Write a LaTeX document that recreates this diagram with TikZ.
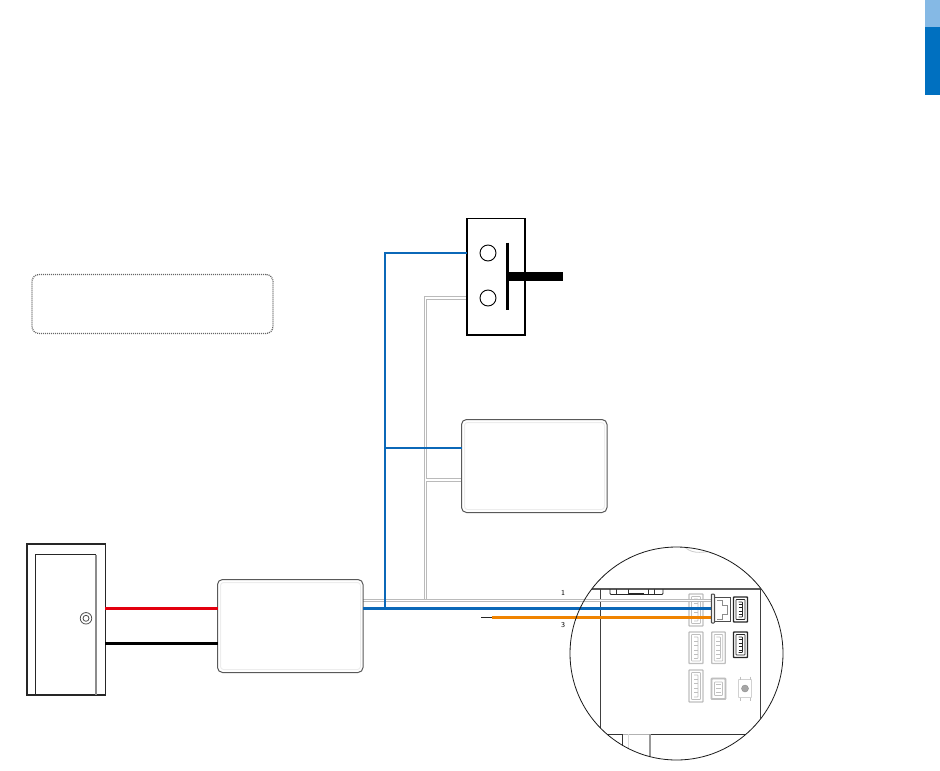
\documentclass[tikz,border=0pt]{standalone}
\usepackage{tikz}
\usetikzlibrary{calc,positioning,backgrounds}
\definecolor{tabblue}{HTML}{0070C0}
\definecolor{tablight}{HTML}{85B9E5}
\definecolor{wireblue}{HTML}{0B68B8}
\definecolor{wireorange}{HTML}{F08300}
\definecolor{wirered}{HTML}{E3000F}
\tikzset{
	unitbox/.style={draw=black!65,line width=1pt,rounded corners=5pt,anchor=north west,inner sep=0pt,outer sep=0pt},
	unitedge/.style={draw=black!7,line width=1pt,rounded corners=3pt,anchor=north west,inner sep=0pt,outer sep=0pt},
	plainbox/.style={draw=black,anchor=north west,inner sep=0pt,outer sep=0pt},
	graywire/.style={draw=black!27,double=white,double distance=1.1pt,line width=1pt},
	bluewire/.style={draw=wireblue,line width=2.6pt},
	colwire/.style={line width=3pt},
	socket/.style={draw=black!25,line width=1.4pt,rounded corners=.6pt},
	activesocket/.style={draw=black!85,line width=1.3pt,rounded corners=.6pt},
	wiremark/.style={font=\sffamily\fontsize{7.5}{8}\selectfont,inner sep=0pt}
}
\newcommand{\socketat}[5]{% x, y, w, h, style
	\draw[#5] (#1,#2) rectangle ++(#3,#4);
	\draw[#5,line width=.6pt] ($(#1,#2)+(2.5,2.5)$) rectangle ++($(#3,#4)+(-5,-5)$);
	\draw[#5,line width=.8pt] ($(#1,#2)+(.5*#3-2,5)$) -- ++(4,0) -- ++(0,#4-10) -- ++(-4,0);
	\foreach \t in {.3,.43,.57,.7}
	\draw[#5,line width=.6pt] ($(#1,#2)+(.5*#3-2,\t*#4)$) --+(4,0);
}
\begin{document}
\begin{tikzpicture}[x=1pt,y=-1pt]
	\useasboundingbox (0,0) rectangle (940,771);
	% side tab
	\fill[tablight] (925,0) rectangle (940,27);
	\fill[tabblue] (925,27) rectangle (940,95);
	% note frame
	\node[unitbox,draw=black!60,densely dotted,line width=1.3pt,rounded corners=7pt,minimum width=241pt,minimum height=59pt] (note) at (32,274.5) {};
	% board detail
	\begin{scope}[on background layer]
		\begin{scope}
			\clip (676.5,653.5) circle (106.5);
			\draw[line width=1.4pt,black!65] (560,589) -- (760.5,589);
			\draw[line width=1pt,black!75] (600.7,589) -- (600.7,770);
			\draw[line width=1pt,black!75] (760.5,589) -- (760.5,770);
			\draw[line width=1pt,black!80] (570,734) -- (622,734);
			\draw[line width=1pt,black!80] (650,734) -- (790,734);
			\draw[line width=1pt,black!30] (622,734) -- (650,734);
			\draw[line width=.9pt,black!80] (622,734) -- (622,770);
			\draw[line width=.8pt,black!15] (628,734) -- (628,770);
			\draw[line width=1.2pt,black!40] (650,734) -- (650,770);
			\draw[line width=.8pt,black!20] (683,545) .. controls (690,554) and (700,553) .. (712,551);
			\draw[line width=.9pt,black!85,rounded corners=1pt] (610,589) -- (610,594.5) -- (663,594.5) -- (663,589);
			\foreach \x in {616,628,648,654}
			\draw[line width=.7pt,black!80] (\x,589) --+(0,5);
			\draw[line width=1.4pt,black!85] (629,594) -- (644,594);
		\end{scope}
		\foreach \x/\y/\w/\h in {689/594/14/32,689/632/14/31.5,711.7/632/13.5/31.5,689/670/14/32}
		\socketat{\x}{\y}{\w}{\h}{socket}
		\draw[socket] (711.5,678.5) rectangle (725.5,699);
		\draw[socket,line width=.7pt] (714.5,682) rectangle (722.5,695.5);
		\foreach \y in {684.5,688.5,692.5}
		\draw[socket,line width=.6pt] (716,\y) --+(5,0);
		\foreach \x/\y/\w/\h in {733.5/597/14/25,733.5/632/14/25.5}
		\socketat{\x}{\y}{\w}{\h}{activesocket}
		% button
		\draw[socket,draw=black!18,line width=.8pt] (738.5,679.5) rectangle (751.5,697.5);
		\foreach \x in {740,750}{
			\draw[black!25,line width=.7pt] (\x,676.5) --+(0,3);
			\draw[black!25,line width=.7pt] (\x,697.5) --+(0,3);
		}
		\node[draw=black!45,fill=black!35,circle,inner sep=0pt,minimum size=7pt] (buttonhead) at (745,688.5) {};
	\end{scope}
	% strike
	\node[plainbox,line width=1.8pt,minimum width=58pt,minimum height=116.5pt] (strike) at (467,218.5) {};
	\node[draw,circle,line width=.9pt,inner sep=0pt,minimum size=16pt] (holeA) at (488,253) {};
	\node[draw,circle,line width=.9pt,inner sep=0pt,minimum size=16pt] (holeB) at (488,298) {};
	\coordinate (barTop) at (507.3,242.5);
	\coordinate (barBot) at (507.3,310);
	\coordinate (boltIn) at (507.3,276.7);
	\coordinate (boltEnd) at (563,276.7);
	\draw[line width=3pt] (barTop) -- (barBot);
	\draw[line width=9pt] (boltIn) -- (boltEnd);
	% units
	\foreach \name/\x/\y in {exit/461.5/419.5,reader/217.5/579.5}{
		\node[unitedge,minimum width=140pt,minimum height=87pt] (\name edge) at (\x+3,\y+3) {};
		\node[unitbox,minimum width=145.5pt,minimum height=93pt] (\name) at (\x,\y) {};
	}
	% door
	\node[plainbox,draw=black!85,line width=1.6pt,minimum width=78.5pt,minimum height=151pt] (frame) at (26.8,544) {};
	\coordinate (leafA) at (35.3,695);
	\coordinate (leafB) at (35.3,554.7);
	\coordinate (leafC) at (96,554.7);
	\coordinate (leafD) at (96,695);
	\draw[line width=1.2pt,black!85] (leafA) -- (leafB) -- (leafC);
	\draw[line width=1.6pt,black!45] (leafC) -- (leafD);
	\node[draw,circle,black!70,line width=.8pt,inner sep=0pt,minimum size=11.5pt] (knob) at (86,618.3) {};
	\node[draw,circle,black!70,line width=.8pt,inner sep=0pt,minimum size=6pt] (knobin) at (86,618.3) {};
	% wires
	\coordinate (riseB) at (425.5,298);
	\coordinate (riseA) at (385,253);
	\coordinate (graysplit) at (425.5,480);
	\coordinate (grayfoot) at (425.5,600.3);
	\coordinate (bluefoot) at (385,608.3);
	\coordinate (bluesplit) at (385,448);
	\coordinate (pinA) at (712,600.3);
	\coordinate (pinB) at (712,608.3);
	\coordinate (pinC) at (712,617.5);
	\coordinate (stub) at (481,617.5);
	\coordinate (stubend) at (491.5,617.5);
	\begin{scope}[on background layer]
		\draw[graywire] (holeB -| strike.west) -- (riseB) -- (grayfoot);
		\draw[graywire] (graysplit) -- (graysplit -| exit.west);
		\draw[graywire] (reader.east |- pinA) -- (pinA);
	\end{scope}
	\draw[bluewire] (holeA -| strike.west) -- (riseA) -- (bluefoot);
	\draw[bluewire] (bluesplit) -- (bluesplit -| exit.west);
	\draw[bluewire] (reader.east |- pinB) -- (pinB);
	\draw[line width=.8pt,black!85] (stub) -- (stubend);
	\draw[colwire,wireorange] (stubend) -- (pinC);
	\draw[colwire,wirered] (frame.east |- 0,608.7) -- (reader.west |- 0,608.7);
	\draw[colwire,black] (frame.east |- 0,643) -- (reader.west |- 0,643);
	\node[wiremark] (markA) at (563,593) {1};
	\node[wiremark] (markC) at (563,625) {3};
	% mated plug
	\draw[line width=1pt,black!70] (714.5,597.5) rectangle (730,621.5);
	\draw[line width=.7pt,black!45] (717,600.5) -- (722,600.5) -- (722,605) -- (727,605) -- (727,614) -- (722,614) -- (722,619) -- (717,619);
	\draw[line width=1pt,black!70,fill=black!8,rounded corners=.8pt] (711.3,594) rectangle (714.5,623);
	\node[draw=black!90,circle,line width=.8pt,inner sep=0pt,minimum size=213pt] (lens) at (676.5,653.5) {};
\end{tikzpicture}
\end{document}
